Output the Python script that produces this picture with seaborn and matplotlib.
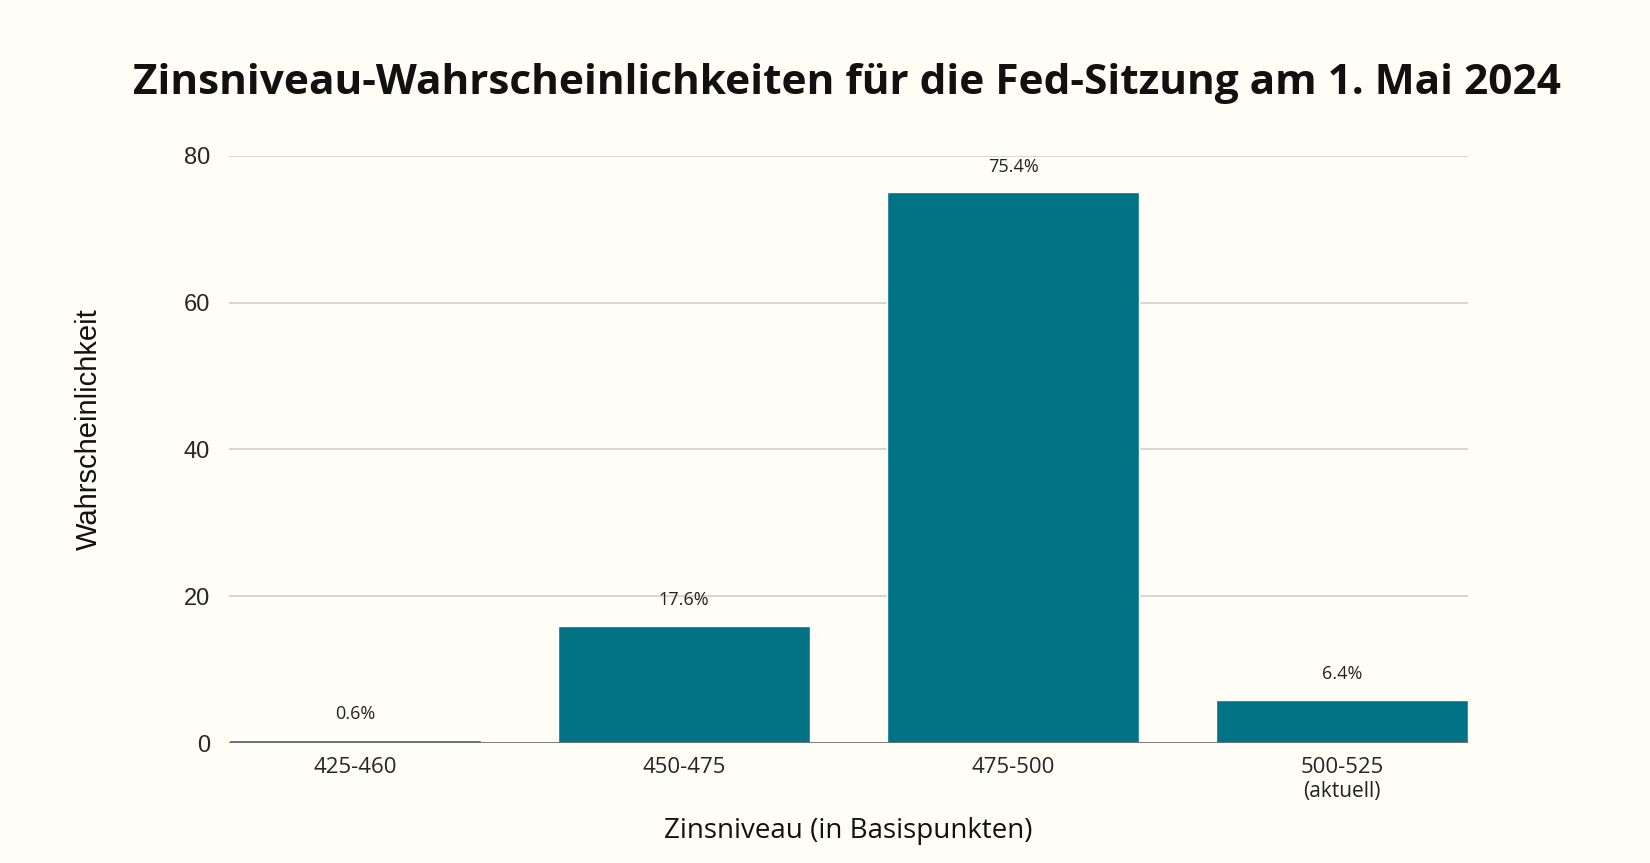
import numpy as np
import matplotlib
matplotlib.use("Agg")
import matplotlib.pyplot as plt
import matplotlib.transforms as mtransforms
import pandas as pd
import seaborn as sns

# data
zins_bereiche = ["425-460", "450-475", "475-500", "500-525"]
wahrscheinlichkeit = [0.4, 16.0, 75.0, 5.9]
balken_labels = ["0.6%", "17.6%", "75.4%", "6.4%"]
y_ticks = [0, 20, 40, 60, 80]

BG = "#FEFDF6"
BAR = "#027285"
MAIN_FONT = ["Open Sans", "DejaVu Sans"]
SIDE_FONT = ["Liberation Sans", "DejaVu Sans"]

sns.set_theme(style="white")
plt.rcParams["font.family"] = MAIN_FONT

fig = plt.figure(figsize=(16.5, 8.63), dpi=100, facecolor=BG)
ax = fig.add_axes([0.139, 0.139, 0.7507, 0.6806])
ax.set_facecolor(BG)

df = pd.DataFrame({"bereich": zins_bereiche, "wert": wahrscheinlichkeit})
sns.barplot(data=df, x="bereich", y="wert", color=BAR, saturation=1,
            width=0.765, ax=ax, zorder=3)

ax.set_xlim(-0.3825, 3.3825)
ax.set_ylim(0, 80)
ax.set_yticks(y_ticks)
for y in y_ticks[1:]:
    ax.axhline(y, color="#D2D2D2", lw=1.3, zorder=1)
ax.axhline(0, color="#707070", lw=1.3, zorder=4)
for s in ax.spines.values():
    s.set_visible(False)
ax.tick_params(axis="both", length=0)
ax.tick_params(axis="y", labelsize=17, pad=14)
ax.tick_params(axis="x", labelsize=16, pad=10)
for t in ax.get_yticklabels():
    t.set_fontfamily(SIDE_FONT)

# value labels above the bars
for i, (v, lab) in enumerate(zip(wahrscheinlichkeit, balken_labels)):
    ax.annotate(lab, (i, v), xytext=(0, 12), textcoords="offset points",
                ha="center", va="bottom", fontsize=13, color="#222222")

# "(aktuell)" below the last tick label
trans = mtransforms.blended_transform_factory(ax.transData, ax.transAxes)
ax.text(3, -0.064, "(aktuell)", transform=trans, ha="center", va="top",
        fontsize=15, color="#222222", linespacing=1.0)

ax.set_xlabel("Zinsniveau (in Basispunkten)", fontsize=20, labelpad=28,
              color="#111111")
ax.set_ylabel("Wahrscheinlichkeit", fontsize=21, color="#111111",
              fontfamily=SIDE_FONT)
ax.yaxis.set_label_coords(-0.102, 0.535)

fig.text(0.513, 0.903, "Zinsniveau-Wahrscheinlichkeiten für die Fed-Sitzung am 1. Mai 2024",
         ha="center", va="center", fontsize=30.5, fontweight="bold", color="#111111")

fig.savefig("out.png", dpi=100, facecolor=BG)
